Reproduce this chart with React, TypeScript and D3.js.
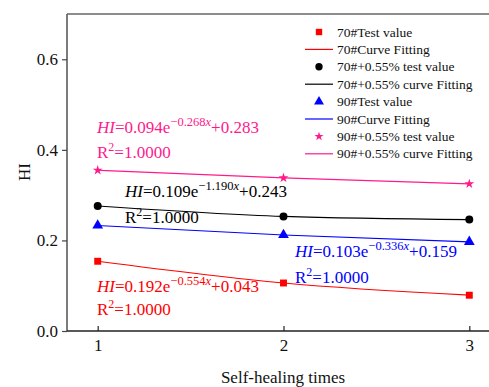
import React, { useRef, useEffect } from "react";
import * as d3 from "d3";

// self-healing times
const times = [1, 2, 3];

// HI values
const hi70 = [0.154, 0.106, 0.079];
const hi70mod = [0.276, 0.253, 0.246];
const hi90 = [0.233, 0.212, 0.197];
const hi90mod = [0.355, 0.338, 0.325];

const yTicks = [0.0, 0.2, 0.4, 0.6];
const xTicks = [1, 2, 3];

const seriesNames = ["70#", "70#+0.55%", "90#", "90#+0.55%"];
const seriesColors = ["#ff0000", "#000000", "#0000ff", "#ff1a8c"];
const legendLabels = [
  "70#Test value",
  "70#Curve Fitting",
  "70#+0.55% test value",
  "70#+0.55% curve Fitting",
  "90#Test value",
  "90#Curve Fitting",
  "90#+0.55% test value",
  "90#+0.55% curve Fitting",
];

// fit equations as printed: [a, b, c]  HI = a e^(b x) + c
const fitA = ["0.192", "0.109", "0.103", "0.094"];
const fitB = ["−0.554", "−1.190", "−0.336", "−0.268"];
const fitC = ["0.043", "0.243", "0.159", "0.283"];
const fitR2 = ["1.0000", "1.0000", "1.0000", "1.0000"];

const App = () => {
  const ref = useRef<SVGSVGElement>(null);
  const width = 489;
  const height = 387;
  const left = 67;
  const top = 14;
  const bottom = 331;
  const right = 520;

  useEffect(() => {
    const svg = d3.select(ref.current);
    svg.selectAll("*").remove();
    const font = "'Liberation Serif', 'Times New Roman', serif";

    const x = d3.scaleLinear().domain([1, 3]).range([97.7, 469.3]);
    const y = d3.scaleLinear().domain([0, 0.7]).range([bottom, top]);

    const axisColor = "#444";

    // frame (left, bottom, top)
    svg.append("line").attr("x1", left).attr("x2", left).attr("y1", top).attr("y2", bottom)
      .attr("stroke", axisColor).attr("stroke-width", 1.4);
    svg.append("line").attr("x1", left).attr("x2", right).attr("y1", bottom).attr("y2", bottom)
      .attr("stroke", "#222").attr("stroke-width", 1.4);
    svg.append("line").attr("x1", left).attr("x2", right).attr("y1", top).attr("y2", top)
      .attr("stroke", "#666").attr("stroke-width", 1.4);

    // y axis
    const yAxis = svg.append("g").attr("transform", `translate(${left},0)`)
      .call(d3.axisLeft(y).tickValues(yTicks).tickFormat(d3.format(".1f")).tickSize(5).tickPadding(4));
    yAxis.select(".domain").remove();
    yAxis.selectAll("line").attr("stroke", axisColor).attr("stroke-width", 1.2);
    yAxis.selectAll("text").attr("font-family", font).attr("font-size", 17).attr("fill", "#111");

    // x axis, ticks inward
    const xAxis = svg.append("g").attr("transform", `translate(0,${bottom})`)
      .call(d3.axisBottom(x).tickValues(xTicks).tickFormat(d3.format("d")).tickSizeInner(-5).tickSizeOuter(0).tickPadding(8));
    xAxis.select(".domain").remove();
    xAxis.selectAll("line").attr("stroke", "#222").attr("stroke-width", 1.2);
    xAxis.selectAll("text").attr("font-family", font).attr("font-size", 17).attr("fill", "#111");

    // axis titles
    svg.append("text").attr("x", 283).attr("y", 383).attr("text-anchor", "middle")
      .attr("font-family", font).attr("font-size", 17).attr("fill", "#111").text("Self-healing times");
    svg.append("text").attr("transform", "translate(30,172) rotate(-90)").attr("text-anchor", "middle")
      .attr("font-family", font).attr("font-size", 17).attr("fill", "#111").text("HI");

    const allSeries = [hi70, hi70mod, hi90, hi90mod];
    const symbols = [d3.symbolSquare, d3.symbolCircle, d3.symbolTriangle, d3.symbolStar];
    const symSizes = [48, 50, 50, 30];

    const line = d3.line<number>()
      .x((_, i) => x(times[i]))
      .y((d) => y(d))
      .curve(d3.curveMonotoneX);

    allSeries.forEach((vals, s) => {
      svg.append("path").attr("d", line(vals)).attr("fill", "none")
        .attr("stroke", seriesColors[s]).attr("stroke-width", 1.2);
    });
    allSeries.forEach((vals, s) => {
      svg.append("g").selectAll("path").data(vals).enter().append("path")
        .attr("d", d3.symbol().type(symbols[s]).size(symSizes[s]))
        .attr("transform", (d, i) => `translate(${x(times[i])},${y(d)})`)
        .attr("fill", seriesColors[s]);
    });

    // equations
    const eqPos = [
      [97, 292, 315],
      [125, 197, 223],
      [295, 257, 283],
      [97, 133, 158],
    ];
    seriesNames.forEach((_, s) => {
      const [ex, ey, ry] = eqPos[s];
      const t = svg.append("text").attr("x", ex).attr("y", ey)
        .attr("font-family", font).attr("font-size", 17).attr("fill", seriesColors[s]);
      t.append("tspan").attr("font-style", "italic").text("HI");
      t.append("tspan").text(`=${fitA[s]}e`);
      const sup = t.append("tspan").attr("dy", -7).attr("font-size", 12.5);
      sup.append("tspan").text(fitB[s]);
      sup.append("tspan").attr("font-style", "italic").text("x");
      t.append("tspan").attr("dy", 7).text(`+${fitC[s]}`);

      const r = svg.append("text").attr("x", ex).attr("y", ry)
        .attr("font-family", font).attr("font-size", 17).attr("fill", seriesColors[s]);
      r.append("tspan").text("R");
      r.append("tspan").attr("dy", -7).attr("font-size", 12).text("2");
      r.append("tspan").attr("dy", 7).text(`=${fitR2[s]}`);
    });

    // legend
    const lg = svg.append("g");
    legendLabels.forEach((lab, i) => {
      const s = Math.floor(i / 2);
      const ly = 32 + i * 17.4;
      if (i % 2 === 0) {
        lg.append("path").attr("d", d3.symbol().type(symbols[s]).size(symSizes[s] * 0.85))
          .attr("transform", `translate(319,${ly})`).attr("fill", seriesColors[s]);
      } else {
        lg.append("line").attr("x1", 305).attr("x2", 333).attr("y1", ly).attr("y2", ly)
          .attr("stroke", seriesColors[s]).attr("stroke-width", 1.2);
      }
      lg.append("text").attr("x", 337).attr("y", ly + 4.5)
        .attr("font-family", font).attr("font-size", 13.5).attr("fill", "#111").text(lab);
    });
  });

  return (
    <div>
      <svg ref={ref} width={width} height={height}
        style={{ position: "absolute", left: 0, top: 0, background: "#fff" }}></svg>
    </div>
  );
};

export default App;
